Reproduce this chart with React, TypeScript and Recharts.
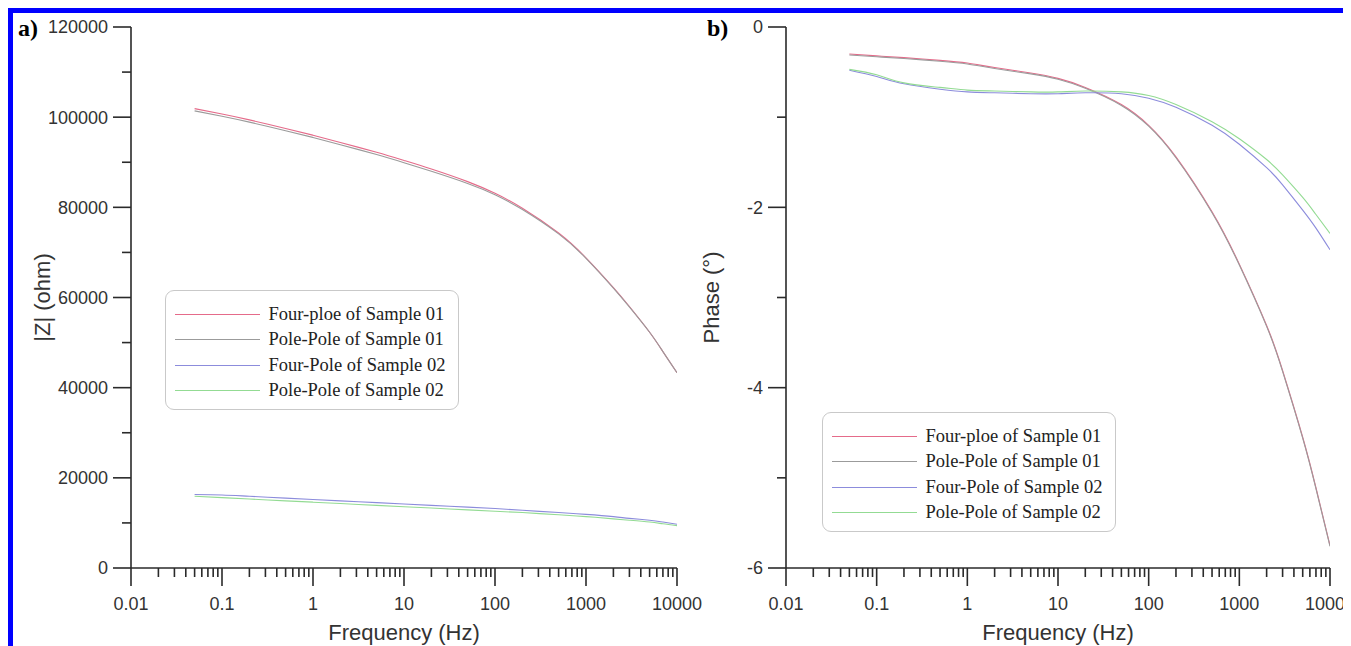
import React from 'react'
import { LineChart, Line, XAxis, YAxis, Legend } from 'recharts'

// frequency points shared by every curve (Hz)
const FREQ = [0.05, 0.1, 0.2, 0.5, 1, 2, 5, 10, 20, 50, 100, 200, 500, 1000, 2000, 3000, 5000, 7000, 10000]

// panel a: |Z| (ohm)
const Z_FOUR_01 = [101900, 100700, 99400, 97500, 96000, 94400, 92200, 90400, 88500, 85700, 83100, 79800, 74300, 68800, 62200, 58000, 52300, 48000, 43300]
const Z_POLE_01 = [101400, 100200, 98900, 97000, 95500, 93900, 91700, 89900, 88000, 85300, 82800, 79500, 74100, 68700, 62100, 57900, 52300, 48000, 43300]
const Z_FOUR_02 = [16300, 16200, 15900, 15500, 15200, 14900, 14500, 14200, 13900, 13500, 13200, 12800, 12300, 11900, 11400, 11000, 10600, 10200, 9700]
const Z_POLE_02 = [15900, 15600, 15300, 14900, 14600, 14300, 13900, 13600, 13300, 12900, 12600, 12300, 11800, 11400, 10900, 10600, 10200, 9800, 9400]

// panel b: phase (deg)
const P_FOUR_01 = [-0.3, -0.32, -0.34, -0.37, -0.4, -0.45, -0.51, -0.57, -0.67, -0.86, -1.09, -1.44, -2.05, -2.63, -3.31, -3.81, -4.55, -5.11, -5.75]
const P_POLE_01 = [-0.31, -0.33, -0.35, -0.38, -0.41, -0.46, -0.52, -0.58, -0.68, -0.87, -1.1, -1.45, -2.06, -2.64, -3.32, -3.82, -4.56, -5.12, -5.76]
const P_FOUR_02 = [-0.48, -0.55, -0.63, -0.69, -0.72, -0.73, -0.74, -0.74, -0.73, -0.74, -0.79, -0.89, -1.09, -1.3, -1.56, -1.75, -2.03, -2.23, -2.47]
const P_POLE_02 = [-0.47, -0.53, -0.62, -0.67, -0.7, -0.71, -0.72, -0.72, -0.71, -0.72, -0.76, -0.86, -1.05, -1.24, -1.47, -1.64, -1.89, -2.08, -2.29]

const SERIES = [
  { key: 'four01', label: 'Four-ploe of Sample 01', color: '#e56b8a' },
  { key: 'pole01', label: 'Pole-Pole of Sample 01', color: '#9b9b9b' },
  { key: 'four02', label: 'Four-Pole of Sample 02', color: '#8c8cdc' },
  { key: 'pole02', label: 'Pole-Pole of Sample 02', color: '#93db93' },
]

const X_LABELS = [0.01, 0.1, 1, 10, 100, 1000, 10000]
const MINOR_MULT = [2, 3, 4, 5, 6, 7, 8, 9]
const X_TICKS = X_LABELS.flatMap((d, i) =>
  i === X_LABELS.length - 1 ? [d] : [d, ...MINOR_MULT.map((m) => d * m)]
)

const Z_LABELS = [0, 20000, 40000, 60000, 80000, 100000, 120000]
const Z_MINOR = [10000, 30000, 50000, 70000, 90000, 110000]
const PHASE_LABELS = [-6, -4, -2, 0]
const PHASE_MINOR = [-5, -3, -1]

const AXIS = '#2a2a2a'
const SANS = '"Liberation Sans", Arial, sans-serif'
const SERIF = '"Liberation Serif", "Times New Roman", serif'

const zRows = FREQ.map((f, i) => ({
  f,
  four01: Z_FOUR_01[i],
  pole01: Z_POLE_01[i],
  four02: Z_FOUR_02[i],
  pole02: Z_POLE_02[i],
}))
const pRows = FREQ.map((f, i) => ({
  f,
  four01: P_FOUR_01[i],
  pole01: P_POLE_01[i],
  four02: P_FOUR_02[i],
  pole02: P_POLE_02[i],
}))

function XTick({ x, y, payload }: any) {
  const major = X_LABELS.includes(payload.value)
  return (
    <g>
      <line x1={x} x2={x} y1={y} y2={y + (major ? 18 : 9)} stroke={AXIS} strokeWidth={1.6} />
      {major && (
        <text x={x} y={y + 42} textAnchor="middle" fontSize={18} fill="#333" fontFamily={SANS}>
          {payload.value}
        </text>
      )}
    </g>
  )
}

function makeYTick(labels: number[]) {
  return function YTick({ x, y, payload }: any) {
    const major = labels.includes(payload.value)
    return (
      <g>
        <line x1={x - (major ? 18 : 9)} x2={x} y1={y} y2={y} stroke={AXIS} strokeWidth={1.6} />
        {major && (
          <text x={x - 23} y={y + 6.4} textAnchor="end" fontSize={18} fill="#333" fontFamily={SANS}>
            {payload.value}
          </text>
        )}
      </g>
    )
  }
}
const ZTick = makeYTick(Z_LABELS)
const PTick = makeYTick(PHASE_LABELS)

function XTitle({ viewBox }: any) {
  const { x, y, width } = viewBox
  return (
    <text x={x + width / 2} y={y + 72} textAnchor="middle" fontSize={22} fill="#333" fontFamily={SANS}>
      Frequency (Hz)
    </text>
  )
}

function yTitle(text: string, dx: number) {
  return function YTitle({ viewBox }: any) {
    const { x, y, height } = viewBox
    const cx = x + dx
    const cy = y + height / 2
    return (
      <text
        x={cx}
        y={cy}
        transform={`rotate(-90 ${cx} ${cy})`}
        textAnchor="middle"
        fontSize={22}
        fill="#333"
        fontFamily={SANS}
      >
        {text}
      </text>
    )
  }
}

function LegendBox() {
  return (
    <div
      style={{
        width: 294,
        height: 120,
        border: '1.5px solid #c9c9c9',
        borderRadius: 9,
        boxSizing: 'border-box',
        background: '#fff',
        position: 'relative',
        fontFamily: SERIF,
        fontSize: 18.5,
        color: '#222',
      }}
    >
      {SERIES.map((s, i) => (
        <div
          key={s.key}
          style={{ position: 'absolute', left: 0, top: Math.round(12 + i * 25.3), height: 22, display: 'flex', alignItems: 'center' }}
        >
          <span style={{ marginLeft: 8.5, width: 85, height: 1, background: s.color }} />
          <span style={{ marginLeft: 9, lineHeight: '22px', whiteSpace: 'nowrap' }}>{s.label}</span>
        </div>
      ))}
    </div>
  )
}

function lines() {
  return SERIES.map((s) => (
    <Line
      key={s.key}
      dataKey={s.key}
      name={s.label}
      type="natural"
      stroke={s.color}
      strokeWidth={1.1}
      dot={false}
      activeDot={false}
      isAnimationActive={false}
    />
  ))
}

const xAxisProps = {
  dataKey: 'f',
  type: 'number' as const,
  scale: 'log' as const,
  domain: [0.01, 10000],
  ticks: X_TICKS,
  interval: 0,
  tickSize: 0,
  tickMargin: 0,
  tickLine: false,
  tick: <XTick />,
  axisLine: { stroke: AXIS, strokeWidth: 1.6 },
  height: 78,
  allowDataOverflow: true,
}

export default function App() {
  return (
    <div
      style={{
        position: 'relative',
        width: 1343,
        height: 700,
        border: '5px solid #0000ff',
        boxSizing: 'border-box',
        background: '#fff',
      }}
    >
      <style>{'html,body{overflow:hidden}'}</style>

      <div style={{ position: 'absolute', left: 5, top: 3, fontFamily: SERIF, fontWeight: 'bold', fontSize: 24, lineHeight: '24px' }}>
        a)
      </div>
      <div style={{ position: 'absolute', left: 694, top: 3, fontFamily: SERIF, fontWeight: 'bold', fontSize: 24, lineHeight: '24px' }}>
        b)
      </div>

      <div style={{ position: 'absolute', left: 0, top: 0 }}>
        <LineChart width={700} height={633} data={zRows} margin={{ top: 14, right: 36, bottom: 0, left: 18 }}>
          <XAxis {...xAxisProps} label={{ content: <XTitle /> }} />
          <YAxis
            type="number"
            domain={[0, 120000]}
            ticks={[...Z_LABELS, ...Z_MINOR].sort((a, b) => a - b)}
            interval={0}
            tickSize={0}
            tickMargin={0}
            tickLine={false}
            tick={<ZTick />}
            axisLine={{ stroke: AXIS, strokeWidth: 1.6 }}
            width={100}
            label={{ content: yTitle('|Z| (ohm)', 19) }}
          />
          <Legend
            layout="vertical"
            align="center"
            verticalAlign="middle"
            content={() => <LegendBox />}
            wrapperStyle={{ left: 152, top: 277, width: 294, height: 120 }}
          />
          {lines()}
        </LineChart>
      </div>

      <div style={{ position: 'absolute', left: 680, top: 0 }}>
        <LineChart width={653} height={633} data={pRows} margin={{ top: 14, right: 16, bottom: 0, left: 23 }}>
          <XAxis {...xAxisProps} label={{ content: <XTitle /> }} />
          <YAxis
            type="number"
            domain={[-6, 0]}
            ticks={[...PHASE_LABELS, ...PHASE_MINOR].sort((a, b) => a - b)}
            interval={0}
            tickSize={0}
            tickMargin={0}
            tickLine={false}
            tick={<PTick />}
            axisLine={{ stroke: AXIS, strokeWidth: 1.6 }}
            width={70}
            label={{ content: yTitle('Phase (°)', 3) }}
          />
          <Legend
            layout="vertical"
            align="center"
            verticalAlign="middle"
            content={() => <LegendBox />}
            wrapperStyle={{ left: 129, top: 399, width: 294, height: 120 }}
          />
          {lines()}
        </LineChart>
      </div>
    </div>
  )
}
